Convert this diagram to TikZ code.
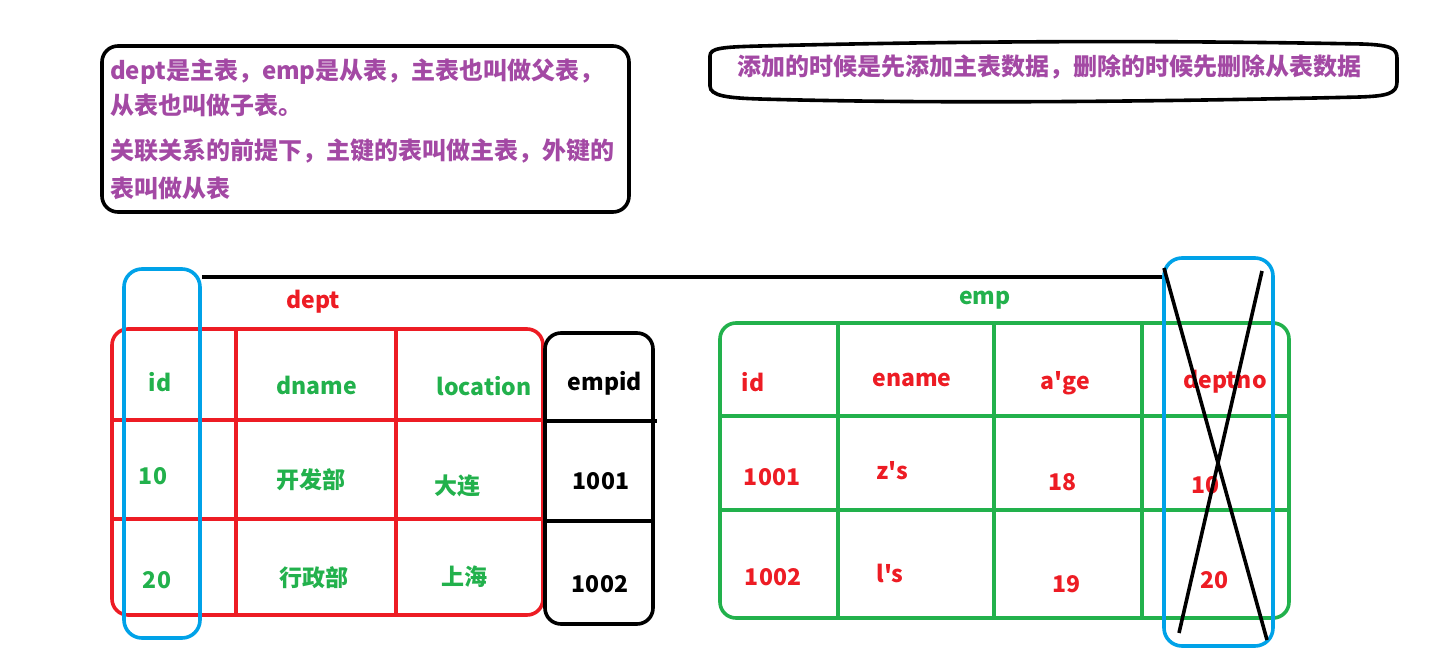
\documentclass[tikz,border=0pt]{standalone}
\usepackage{fontspec}
\setmainfont{Noto Sans CJK SC}[Ligatures=TeXOff]
\usetikzlibrary{positioning}
\definecolor{notepurple}{RGB}{163,73,164}
\definecolor{keyred}{RGB}{237,28,36}
\definecolor{keygreen}{RGB}{34,177,76}
\definecolor{keyblue}{RGB}{0,162,232}

\begin{document}
\begin{tikzpicture}[
  x=1pt, y=-1pt,
  outline/.style={line width=3.6pt, rounded corners=16pt},
  gridline/.style={line width=3.6pt},
  note/.style={anchor=base west, inner sep=0pt, text=notepurple, font=\fontsize{24}{29}\selectfont\bfseries},
  cell/.style={inner sep=0pt, font=\fontsize{23}{28}\selectfont\bfseries},
  keybox/.style={draw=keyblue, line width=3.6pt, rounded corners=18pt, inner sep=0pt}
]
\useasboundingbox (0,0) rectangle (1430,653);

% notes
\draw[outline] (102,46) rectangle (629,212);
\node[note] (note1) at (110,79) {dept是主表，emp是从表，主表也叫做父表，};
\node[note] (note2) at (110,114) {从表也叫做子表。};
\node[note] (note3) at (110,159) {关联关系的前提下，主键的表叫做主表，外键的};
\node[note] (note4) at (110,197) {表叫做从表};

\draw[line width=3.6pt] (710,70) -- (710,56) .. controls (710,48) and (722,47) .. (760,46)
  .. controls (1000,40) and (1200,41) .. (1362,44) .. controls (1390,45) and (1397,48) .. (1397,58)
  -- (1397,82) .. controls (1397,94) and (1386,96) .. (1360,97)
  .. controls (1100,103) and (900,103) .. (760,99) .. controls (728,98) and (710,96) .. (710,86) -- cycle;
\node[note] (order) at (737,75) {添加的时候是先添加主表数据，删除的时候先删除从表数据};

% dept
\node[cell, text=keyred] (dept) at (313,302) {dept};
\draw[outline, keyred] (112,329) rectangle (543,615);
\draw[gridline, keyred] (236,329) -- (236,615) (396,329) -- (396,615)
  (112,420) -- (543,420) (112,519) -- (543,519);
\node[cell, text=keygreen] (did) at (160,382) {id};
\node[cell, text=keygreen] (dname) at (317,385) {dname};
\node[cell, text=keygreen] (dloc) at (484,386) {location};
\node[cell, text=keygreen] (did1) at (153,476) {10};
\node[cell, text=keygreen] (dname1) at (311,480) {开发部};
\node[cell, text=keygreen] (dloc1) at (457,486) {大连};
\node[cell, text=keygreen] (did2) at (157,580) {20};
\node[cell, text=keygreen] (dname2) at (314,578) {行政部};
\node[cell, text=keygreen] (dloc2) at (464,577) {上海};

\draw[outline] (545,333) rectangle (653,624);
\draw[gridline] (545,421) -- (657,421) (545,521) -- (653,521);
\node[cell] (empid) at (605,383) {empid};
\node[cell] (empid1) at (601,481) {1001};
\node[cell] (empid2) at (600,584) {1002};

% emp
\node[cell, text=keygreen] (emp) at (985,300) {emp};
\draw[outline, keygreen] (720,323) rectangle (1289,618);
\draw[gridline, keygreen] (838,323) -- (838,618) (994,323) -- (994,618) (1142,323) -- (1142,618)
  (720,416) -- (1289,416) (720,510) -- (1289,510);
\node[cell, text=keyred] (eid) at (753,382) {id};
\node[cell, text=keyred] (ename) at (912,380) {ename};
\node[cell, text=keyred] (eage) at (1065,383) {a'ge};
\node[cell, text=keyred] (edept) at (1225,382) {deptno};
\node[cell, text=keyred] (eid1) at (772,477) {1001};
\node[cell, text=keyred] (ename1) at (892,471) {z's};
\node[cell, text=keyred] (eage1) at (1062,482) {18};
\node[cell, text=keyred] (edept1) at (1205,485) {10};
\node[cell, text=keyred] (eid2) at (773,577) {1002};
\node[cell, text=keyred] (ename2) at (890,573) {l's};
\node[cell, text=keyred] (eage2) at (1066,584) {19};
\node[cell, text=keyred] (edept2) at (1214,580) {20};

% keys
\node[keybox, minimum width=76pt, minimum height=369pt] (pk) at (162,453.5) {};
\node[keybox, minimum width=109pt, minimum height=388pt] (fk) at (1218.5,452) {};
\draw[gridline] (pk.east |- 0,277) -- (fk.west |- 0,277);
\draw[gridline] (1164,268) -- (1267,640) (1262,271) -- (1179,633);
\end{tikzpicture}
\end{document}
